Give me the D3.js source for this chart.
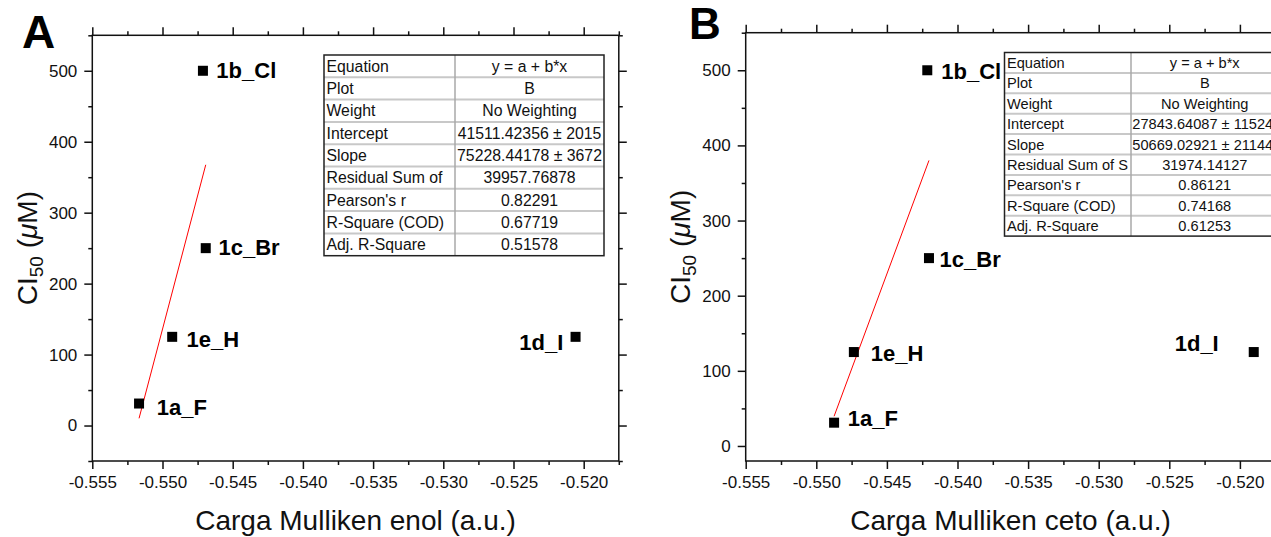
<!DOCTYPE html>
<html><head><meta charset="utf-8">
<script src="https://cdn.jsdelivr.net/npm/d3@7/dist/d3.min.js"></script>
<style>
body{margin:0;background:#fff;}
svg{display:block;font-family:"Liberation Sans",Arial,sans-serif;}
</style></head>
<body><svg id="c" width="1271" height="537"></svg>
<script>
// ---------- data ----------
const compounds      = ["1a_F", "1b_Cl", "1c_Br", "1d_I", "1e_H"];
const ic50           = [31, 500, 250, 125, 125];
const mullikenEnol   = [-0.55167, -0.54712, -0.54692, -0.52058, -0.54931];
const mullikenCeto   = [-0.54874, -0.54214, -0.54202, -0.51902, -0.54734];
const inFit          = [true, true, true, false, true];

const fitEnol = [41511.42356, 75228.44178];   // intercept, slope
const fitCeto = [27843.64087, 50669.02921];

const xTickVals   = [-0.555, -0.550, -0.545, -0.540, -0.535, -0.530, -0.525, -0.520];
const xTickLabels = ["-0.555", "-0.550", "-0.545", "-0.540", "-0.535", "-0.530", "-0.525", "-0.520"];
const xMinorVals  = [-0.5525, -0.5475, -0.5425, -0.5375, -0.5325, -0.5275, -0.5225, -0.5175];
const yTickVals   = [0, 100, 200, 300, 400, 500];
const yTickLabels = ["0", "100", "200", "300", "400", "500"];
const yMinorA     = [-50, 50, 150, 250, 350, 450, 550];
const yMinorB     = [50, 150, 250, 350, 450, 550];

const tableLabelsA = ["Equation", "Plot", "Weight", "Intercept", "Slope", "Residual Sum of", "Pearson's r", "R-Square (COD)", "Adj. R-Square"];
const tableValuesA = ["y = a + b*x", "B", "No Weighting", "41511.42356 ± 2015", "75228.44178 ± 3672", "39957.76878", "0.82291", "0.67719", "0.51578"];
const tableLabelsB = ["Equation", "Plot", "Weight", "Intercept", "Slope", "Residual Sum of S", "Pearson's r", "R-Square (COD)", "Adj. R-Square"];
const tableValuesB = ["y = a + b*x", "B", "No Weighting", "27843.64087 ± 11524.", "50669.02921 ± 21144.", "31974.14127", "0.86121", "0.74168", "0.61253"];

// ---------- layout / styles ----------
const FONT = '"Liberation Sans",Arial,sans-serif';
const svg = d3.select("#c");
svg.append("rect").attr("width",1271).attr("height",537).attr("fill","#fff");

const panels = [
  { letter:"A", lx:22, ly:48, lsize:46,
    xr:[92.3, 618.8], yr:[461, 35.3], xd:[-0.555,-0.5175], yd:[-50,550],
    xs: mullikenEnol, fit: fitEnol, yMinor: yMinorA,
    xtitle:"Carga Mulliken enol (a.u.)", ytx:37,
    labelOff: [[17.7,11.3,"start"],[13.4,7.2,"start"],[12.7,6.5,"start"],[-12.2,13.6,"end"],[14.3,10.6,"start"]],
    table:{x:324, y:55, w:280, c1:131, rh:22.3, fs:15.8, labels:tableLabelsA, values:tableValuesA}
  },
  { letter:"B", lx:689, ly:38.5, lsize:44,
    xr:[745.7, 1275.2], yr:[461, 32.7], xd:[-0.555,-0.5175], yd:[-20,550],
    xs: mullikenCeto, fit: fitCeto, yMinor: yMinorB,
    xtitle:"Carga Mulliken ceto (a.u.)", ytx:690,
    labelOff: [[13.7,3.7,"start"],[14,9,"start"],[10.6,8.4,"start"],[-35,-1,"end"],[17,9,"start"]],
    table:{x:1004.5, y:52.5, w:274, c1:126.5, rh:20.4, fs:14.6, labels:tableLabelsB, values:tableValuesB}
  }
];

panels.forEach(p => {
  const x = d3.scaleLinear().domain(p.xd).range(p.xr);
  const y = d3.scaleLinear().domain(p.yd).range(p.yr);
  const g = svg.append("g");
  const [L,R] = p.xr, [B,T] = p.yr;

  const style = sel => {
    sel.select(".domain").remove();
    sel.selectAll("line").attr("stroke","#111").attr("stroke-width",1.5);
    sel.selectAll("text").attr("font-family",FONT).attr("font-size",17).attr("fill","#111");
  };
  // major + minor ticks on all four sides
  g.append("g").attr("transform",`translate(0,${B})`)
    .call(d3.axisBottom(x).tickValues(xTickVals).tickFormat((d,i)=>xTickLabels[i]).tickSize(8).tickPadding(7)).call(style);
  g.append("g").attr("transform",`translate(0,${B})`)
    .call(d3.axisBottom(x).tickValues(xMinorVals).tickFormat("").tickSize(4)).call(style);
  g.append("g").attr("transform",`translate(0,${T})`)
    .call(d3.axisTop(x).tickValues(xTickVals).tickFormat("").tickSize(8)).call(style);
  g.append("g").attr("transform",`translate(0,${T})`)
    .call(d3.axisTop(x).tickValues(xMinorVals).tickFormat("").tickSize(4)).call(style);
  g.append("g").attr("transform",`translate(${L},0)`)
    .call(d3.axisLeft(y).tickValues(yTickVals).tickFormat((d,i)=>yTickLabels[i]).tickSize(8).tickPadding(7)).call(style);
  g.append("g").attr("transform",`translate(${L},0)`)
    .call(d3.axisLeft(y).tickValues(p.yMinor).tickFormat("").tickSize(4)).call(style);
  g.append("g").attr("transform",`translate(${R},0)`)
    .call(d3.axisRight(y).tickValues(yTickVals).tickFormat("").tickSize(8)).call(style);
  g.append("g").attr("transform",`translate(${R},0)`)
    .call(d3.axisRight(y).tickValues(p.yMinor).tickFormat("").tickSize(4)).call(style);

  // frame
  g.append("rect").attr("x",L).attr("y",T).attr("width",R-L).attr("height",B-T)
    .attr("fill","none").attr("stroke","#111").attr("stroke-width",1.5);

  // fit line over the fitted compounds' x range
  const fx = p.xs.filter((v,i)=>inFit[i]);
  const ext = d3.extent(fx);
  const lineData = ext.map(v => [v, p.fit[0] + p.fit[1]*v]);
  g.append("path").datum(lineData)
    .attr("d", d3.line().x(d=>x(d[0])).y(d=>y(d[1])))
    .attr("stroke","#ff0000").attr("stroke-width",1).attr("fill","none");

  // markers
  g.selectAll("rect.pt").data(compounds).join("rect").attr("class","pt")
    .attr("x",(d,i)=>x(p.xs[i])-5).attr("y",(d,i)=>y(ic50[i])-5)
    .attr("width",10).attr("height",10).attr("fill","#000");

  // point labels
  g.selectAll("text.lab").data(compounds).join("text").attr("class","lab")
    .attr("x",(d,i)=>x(p.xs[i])+p.labelOff[i][0])
    .attr("y",(d,i)=>y(ic50[i])+p.labelOff[i][1])
    .attr("text-anchor",(d,i)=>p.labelOff[i][2])
    .attr("font-family",FONT).attr("font-weight","bold").attr("font-size",22).attr("fill","#000")
    .text(d=>d);

  // axis titles
  g.append("text").attr("x",(L+R)/2).attr("y",530).attr("text-anchor","middle")
    .attr("font-family",FONT).attr("font-size",28).attr("fill","#111").text(p.xtitle);
  const yt = g.append("text").attr("transform",`translate(${p.ytx},${(T+B)/2}) rotate(-90)`)
    .attr("text-anchor","middle").attr("font-family",FONT).attr("font-size",28).attr("fill","#111");
  yt.append("tspan").text("CI");
  yt.append("tspan").attr("font-size",19).attr("dy",6).text("50");
  yt.append("tspan").attr("dy",-6).text(" (");
  yt.append("tspan").attr("font-style","italic").text("μ");
  yt.append("tspan").text("M)");

  // panel letter
  svg.append("text").attr("x",p.lx).attr("y",p.ly).attr("font-family",FONT)
    .attr("font-weight","bold").attr("font-size",p.lsize).attr("fill","#000").text(p.letter);

  // statistics table
  const t = p.table;
  const tg = svg.append("g");
  const n = t.labels.length;
  const H = t.rh*n;
  const clipId = "clip"+p.letter;
  tg.append("clipPath").attr("id",clipId).append("rect")
    .attr("x",t.x+t.c1).attr("y",t.y).attr("width",t.w-t.c1).attr("height",H);
  tg.append("rect").attr("x",t.x).attr("y",t.y).attr("width",t.w).attr("height",H).attr("fill","#fff");
  for (let i=1;i<n;i++){
    tg.append("line").attr("x1",t.x).attr("x2",t.x+t.w).attr("y1",t.y+i*t.rh).attr("y2",t.y+i*t.rh)
      .attr("stroke","#c8c8c8").attr("stroke-width",2);
  }
  tg.append("line").attr("x1",t.x+t.c1).attr("x2",t.x+t.c1).attr("y1",t.y).attr("y2",t.y+H)
    .attr("stroke","#a8a8a8").attr("stroke-width",1.5);
  tg.append("rect").attr("x",t.x).attr("y",t.y).attr("width",t.w).attr("height",H)
    .attr("fill","none").attr("stroke","#222").attr("stroke-width",1.5);
  tg.selectAll("text.tl").data(t.labels).join("text").attr("class","tl")
    .attr("x",t.x+2.5).attr("y",(d,i)=>t.y+i*t.rh+t.rh/2+t.fs*0.36)
    .attr("font-family",FONT).attr("font-size",t.fs).attr("fill","#111").text(d=>d);
  tg.append("g").attr("clip-path",`url(#${clipId})`)
    .selectAll("text").data(t.values).join("text")
    .attr("x",t.x+t.c1+(t.w-t.c1)/2).attr("y",(d,i)=>t.y+i*t.rh+t.rh/2+t.fs*0.36)
    .attr("text-anchor","middle")
    .attr("font-family",FONT).attr("font-size",t.fs).attr("fill","#111").text(d=>d);
});
</script></body></html>
